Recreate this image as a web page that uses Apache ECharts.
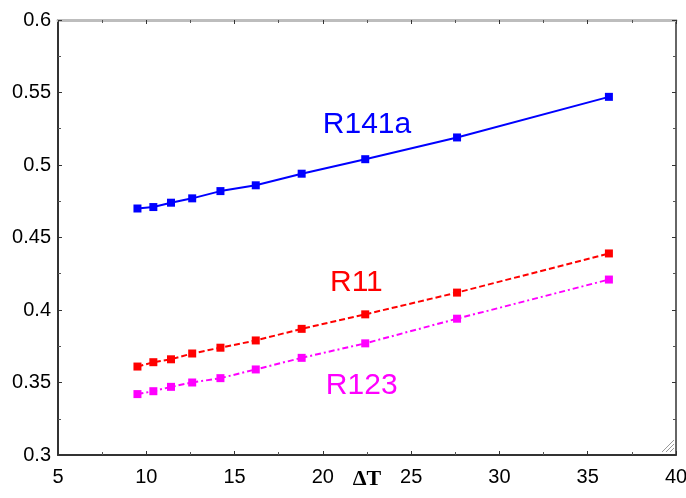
<!DOCTYPE html>
<html>
<head>
<meta charset="utf-8">
<script src="https://cdn.jsdelivr.net/npm/echarts@6/dist/echarts.min.js"></script>
<style>
  html, body { margin: 0; padding: 0; background: #fff; }
  #chart { width: 686px; height: 498px; }
</style>
</head>
<body>
<div id="chart"></div>
<script>
// Temperature difference (ΔT) shared by all three refrigerants
const deltaT = [9.5, 10.4, 11.4, 12.6, 14.2, 16.2, 18.8, 22.4, 27.6, 36.2];

// Series values per refrigerant
const r141a = [0.470, 0.471, 0.474, 0.477, 0.482, 0.486, 0.494, 0.504, 0.519, 0.547];
const r11   = [0.361, 0.364, 0.366, 0.370, 0.374, 0.379, 0.387, 0.397, 0.412, 0.439];
const r123  = [0.342, 0.344, 0.347, 0.350, 0.353, 0.359, 0.367, 0.377, 0.394, 0.421];

// Tag positions in data space
const tagR141a = [22.5, 0.528];
const tagR11   = [21.9, 0.419];
const tagR123  = [22.2, 0.348];

const font = 'Arial, "Liberation Sans", sans-serif';

function pairs(xs, ys) { return xs.map((x, i) => [x, ys[i]]); }

function tag(coord, text, color) {
  return {
    silent: true,
    symbol: 'rect',
    symbolSize: 0,
    data: [{ coord: coord, value: text }],
    label: {
      show: true, position: 'inside', formatter: text,
      color: color, fontFamily: font, fontSize: 30
    }
  };
}

function series(name, ys, color, dash, coord) {
  return {
    name: name,
    type: 'line',
    data: pairs(deltaT, ys),
    symbol: 'rect',
    symbolSize: 8,
    itemStyle: { color: color },
    lineStyle: { color: color, width: 2, type: dash },
    animation: false,
    markPoint: tag(coord, name, color)
  };
}

const axisTicks = { show: true, inside: true, length: 4, lineStyle: { color: '#333', width: 1 } };
const minor = { show: true, splitNumber: 2, length: 3, lineStyle: { color: '#555', width: 1 } };

const chart = echarts.init(document.getElementById('chart'));
chart.setOption({
  backgroundColor: '#fff',
  animation: false,
  grid: { left: 58, right: 10, top: 20, bottom: 43, containLabel: false, outerBoundsMode: 'none' },
  xAxis: [{
    type: 'value', min: 5, max: 40, interval: 5,
    name: 'ΔT', nameLocation: 'middle', nameGap: 13, nameMoveOverlap: false,
    nameTextStyle: { fontFamily: '"Liberation Serif", "Times New Roman", serif', fontWeight: 'bold', fontSize: 22, color: '#000' },
    axisLine: { show: true, lineStyle: { color: '#333', width: 2 } },
    axisTick: axisTicks, minorTick: minor,
    axisLabel: { color: '#000', fontFamily: font, fontSize: 20, margin: 12 },
    splitLine: { show: false }
  }, {
    type: 'value', position: 'top', min: 5, max: 40, interval: 5,
    axisLine: { show: true, onZero: false, lineStyle: { color: '#bdbdbd', width: 3 } },
    axisTick: axisTicks, minorTick: minor,
    axisLabel: { show: false }, splitLine: { show: false }
  }],
  yAxis: [{
    type: 'value', min: 0.3, max: 0.6, interval: 0.05,
    axisLine: { show: true, lineStyle: { color: '#333', width: 2 } },
    axisTick: axisTicks, minorTick: minor,
    axisLabel: { color: '#000', fontFamily: font, fontSize: 20, margin: 7 },
    splitLine: { show: false }
  }, {
    type: 'value', position: 'right', min: 0.3, max: 0.6, interval: 0.05,
    axisLine: { show: true, onZero: false, lineStyle: { color: '#333', width: 1.5 } },
    axisTick: axisTicks, minorTick: minor,
    axisLabel: { show: false }, splitLine: { show: false }
  }],
  series: [
    series('R141a', r141a, '#0000ff', 'solid', tagR141a),
    series('R11', r11, '#ff0000', [6, 3], tagR11),
    series('R123', r123, '#ff00ff', [6, 3, 2, 3], tagR123)
  ],
  graphic: [{
    // window resize grip in the lower right corner of the frame
    type: 'group', x: 662, y: 440,
    children: [0, 4, 8].map(o => ({
      type: 'line',
      shape: { x1: 12, y1: o, x2: o, y2: 12 },
      style: { stroke: '#9a9a9a', lineWidth: 1 }
    }))
  }]
});
</script>
</body>
</html>
